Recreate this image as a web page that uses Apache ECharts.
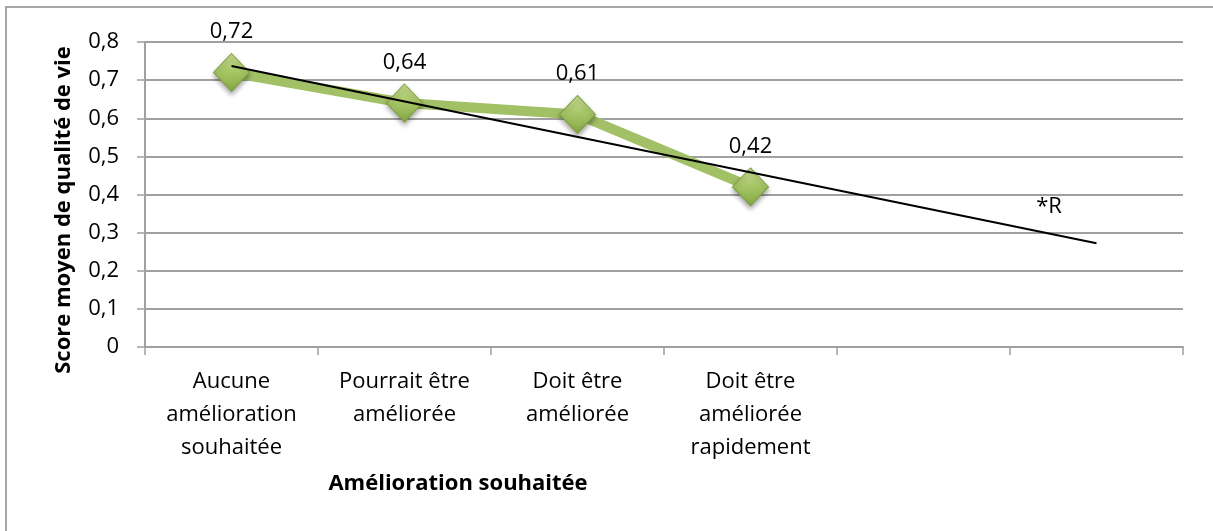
<!DOCTYPE html>
<html>
<head>
<meta charset="utf-8">
<script src="https://cdn.jsdelivr.net/npm/echarts@6/dist/echarts.min.js"></script>
<style>
  html, body { margin: 0; padding: 0; background: #fff; }
  #chart { width: 1213px; height: 531px; }
</style>
</head>
<body>
<div id="chart"></div>
<script>
// categories (the last two slots are empty in the original)
var categories = [
  "Aucune\namélioration\nsouhaitée",
  "Pourrait être\naméliorée",
  "Doit être\naméliorée",
  "Doit être\naméliorée\nrapidement",
  " ",
  "  "
];
var scores = [0.72, 0.64, 0.61, 0.42, null, null];
// trend line: start and end points
var trend = [0.737, null, null, null, null, 0.272];
var yTicks = { min: 0, max: 0.8, interval: 0.1 };

var font = "'Open Sans', 'Noto Sans', sans-serif";

function fr(v) {
  if (v === 0) return "0";
  return v.toFixed(1).replace(".", ",");
}

var myChart = echarts.init(document.getElementById("chart"));
myChart.setOption({
  animation: false,
  textStyle: { fontFamily: font, color: "#000" },
  grid: { left: 145, right: 30, top: 42, bottom: 184 },
  graphic: [
    {
      type: "rect",
      shape: { x: 6, y: 7, width: 1240, height: 560 },
      style: { fill: "none", stroke: "#a6a6a6", lineWidth: 2 },
      silent: true
    },
    {
      type: "text",
      x: 458,
      y: 484,
      style: {
        text: "Amélioration souhaitée",
        font: "bold 22px " + font,
        fill: "#000",
        align: "center",
        verticalAlign: "middle"
      }
    },
    {
      type: "text",
      x: 64,
      y: 210,
      rotation: Math.PI / 2,
      style: {
        text: "Score moyen de qualité de vie",
        font: "bold 22px " + font,
        fill: "#000",
        align: "center",
        verticalAlign: "middle"
      }
    },
    {
      type: "text",
      x: 1049,
      y: 207,
      style: {
        text: "*R",
        font: "22px " + font,
        fill: "#000",
        align: "center",
        verticalAlign: "middle"
      }
    }
  ],
  xAxis: {
    type: "category",
    data: categories,
    boundaryGap: true,
    axisLine: { lineStyle: { color: "#a0a0a0", width: 2 } },
    axisTick: { show: true, length: 8, lineStyle: { color: "#a0a0a0", width: 1.5 } },
    axisLabel: { fontSize: 22, lineHeight: 33, margin: 18, color: "#000", fontFamily: font, interval: 0 },
    splitLine: { show: false }
  },
  yAxis: {
    type: "value",
    min: yTicks.min,
    max: yTicks.max,
    interval: yTicks.interval,
    axisLine: { show: true, lineStyle: { color: "#a0a0a0", width: 2 } },
    axisTick: { show: true, length: 8, lineStyle: { color: "#a0a0a0", width: 1.5 } },
    axisLabel: { fontSize: 22, margin: 26, color: "#000", fontFamily: font, formatter: fr },
    splitLine: { lineStyle: { color: "#a0a0a0", width: 2 } }
  },
  series: [
    {
      name: "Score",
      type: "line",
      data: scores,
      z: 2,
      symbol: "diamond",
      symbolSize: [36, 38],
      lineStyle: { color: "#a2c065", width: 10 },
      itemStyle: {
        color: new echarts.graphic.LinearGradient(0, 0, 0, 1, [
          { offset: 0, color: "#c8dd94" },
          { offset: 0.5, color: "#a5c564" },
          { offset: 1, color: "#86a843" }
        ]),
        borderColor: "#7f9f42",
        borderWidth: 1,
        shadowColor: "rgba(0,0,0,0.35)",
        shadowBlur: 5,
        shadowOffsetY: 3
      },
      label: {
        show: true,
        position: "top",
        distance: 10,
        fontSize: 22,
        color: "#000",
        fontFamily: font,
        formatter: function (p) { return p.value.toFixed(2).replace(".", ","); }
      }
    },
    {
      name: "Tendance",
      type: "line",
      data: trend,
      connectNulls: true,
      z: 3,
      showSymbol: false,
      symbol: "none",
      lineStyle: { color: "#000", width: 2 }
    }
  ]
});
</script>
</body>
</html>
